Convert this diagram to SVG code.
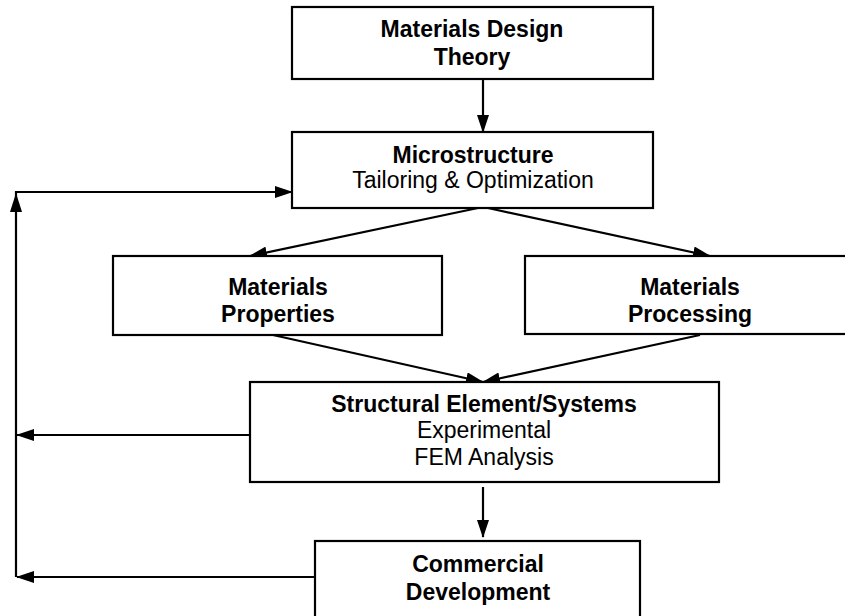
<svg xmlns="http://www.w3.org/2000/svg" width="845" height="616" viewBox="0 0 845 616">
<defs>
<marker id="ah" markerUnits="userSpaceOnUse" markerWidth="18" markerHeight="12" refX="17" refY="6" orient="auto">
<path d="M0,0 L18,6 L0,12 Z" fill="#000"/>
</marker>
<style>
.box{fill:#fff;stroke:#000;stroke-width:2.2}
.c{fill:none;stroke:#000;stroke-width:2.2}
text{font-family:"Liberation Sans",Arial,sans-serif;font-size:23px;fill:#000;text-anchor:middle}
.b{font-weight:bold}
</style>
</defs>
<rect width="845" height="616" fill="#fff"/>
<g id="connectors">
<line class="c" x1="483" y1="79" x2="483" y2="132" marker-end="url(#ah)"/>
<line class="c" x1="478" y1="208" x2="250" y2="256" marker-end="url(#ah)"/>
<line class="c" x1="488" y1="208" x2="710" y2="256" marker-end="url(#ah)"/>
<line class="c" x1="273" y1="335" x2="483" y2="382" marker-end="url(#ah)"/>
<line class="c" x1="700" y1="335" x2="483" y2="382" marker-end="url(#ah)"/>
<line class="c" x1="483" y1="487" x2="483" y2="537" marker-end="url(#ah)"/>
<line class="c" x1="250" y1="435" x2="17" y2="435" marker-end="url(#ah)"/>
<line class="c" x1="315" y1="577" x2="17" y2="577" marker-end="url(#ah)"/>
<path class="c" d="M16,577 V192 H292" marker-end="url(#ah)"/>
<path d="M16,193 L10,212 L22,212 Z" fill="#000"/>
</g>
<g id="n-theory">
<rect class="box" x="292" y="7" width="361" height="72"/>
<text class="b" x="472" y="37">Materials Design</text>
<text class="b" x="472" y="65">Theory</text>
</g>
<g id="n-micro">
<rect class="box" x="292" y="132" width="361" height="76"/>
<text class="b" x="473" y="163">Microstructure</text>
<text x="473" y="188">Tailoring &amp; Optimization</text>
</g>
<g id="n-props">
<rect class="box" x="113" y="256" width="329" height="79"/>
<text class="b" x="278" y="295">Materials</text>
<text class="b" x="278" y="322">Properties</text>
</g>
<g id="n-proc">
<rect class="box" x="525" y="256" width="332" height="78"/>
<text class="b" x="690" y="295">Materials</text>
<text class="b" x="690" y="322">Processing</text>
</g>
<g id="n-struct">
<rect class="box" x="250" y="382" width="469" height="100"/>
<text class="b" x="484" y="412">Structural Element/Systems</text>
<text x="484" y="438">Experimental</text>
<text x="484" y="465">FEM Analysis</text>
</g>
<g id="n-comm">
<rect class="box" x="315" y="541" width="325" height="90"/>
<text class="b" x="478" y="572">Commercial</text>
<text class="b" x="478" y="600">Development</text>
</g>
</svg>
